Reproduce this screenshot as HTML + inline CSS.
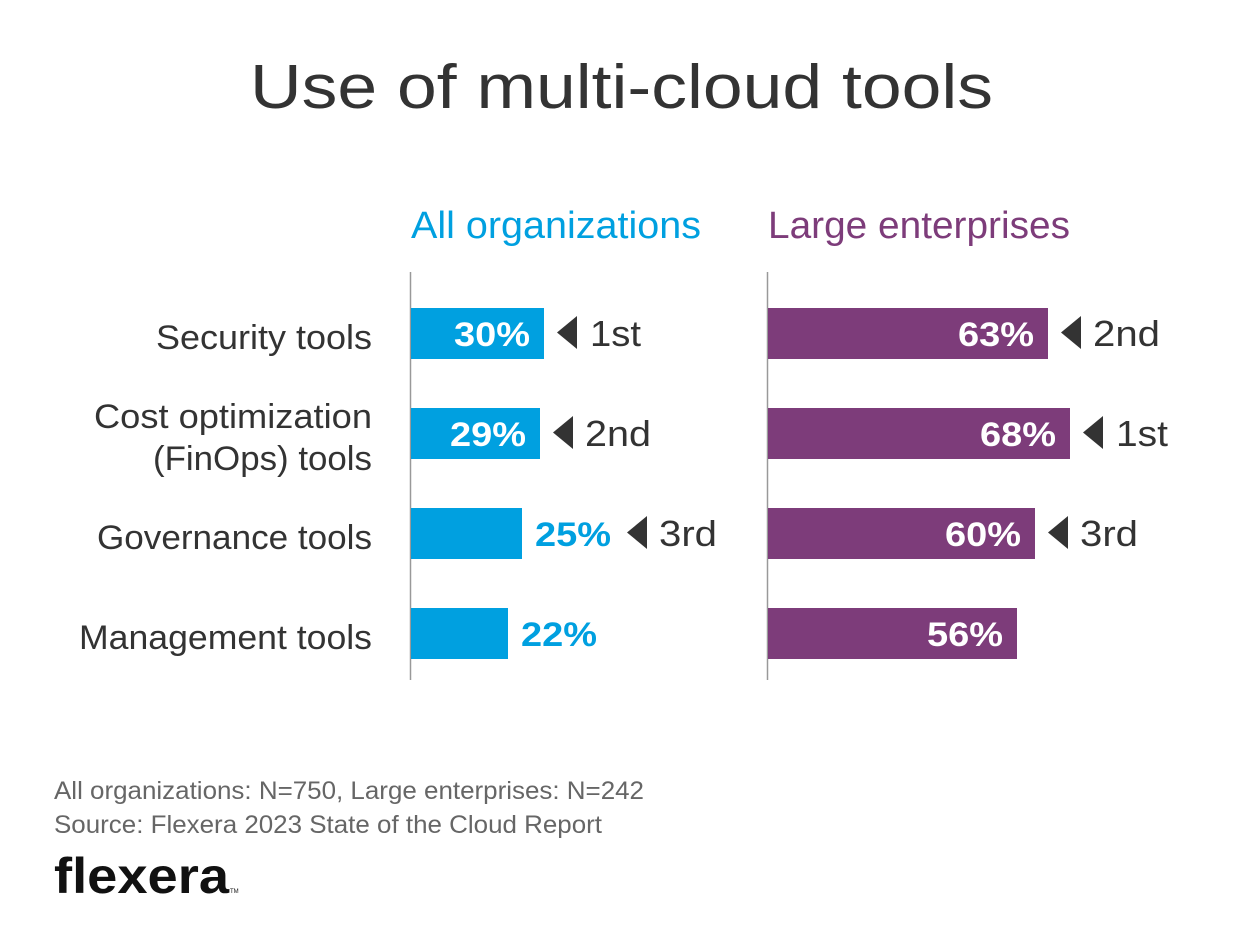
<!DOCTYPE html>
<html><head><meta charset="utf-8"><style>body{margin:0;background:#fff}svg{display:block}</style></head><body>
<svg width="1241" height="949" viewBox="0 0 1241 949" xmlns="http://www.w3.org/2000/svg" font-family="Liberation Sans, sans-serif">
<rect width="1241" height="949" fill="#fff"/>
<text x="250" y="108" font-size="62" fill="#333" textLength="743" lengthAdjust="spacingAndGlyphs">Use of multi-cloud tools</text>
<text x="411" y="238" font-size="38" fill="#00a0e0" textLength="290" lengthAdjust="spacingAndGlyphs">All organizations</text>
<text x="768" y="238" font-size="38" fill="#7d3c7a" textLength="302" lengthAdjust="spacingAndGlyphs">Large enterprises</text>
<line x1="410.5" y1="272" x2="410.5" y2="680" stroke="#999" stroke-width="1.5"/>
<line x1="767.5" y1="272" x2="767.5" y2="680" stroke="#999" stroke-width="1.5"/>
<g font-size="34" fill="#333" text-anchor="end">
<text x="372" y="349" textLength="216" lengthAdjust="spacingAndGlyphs">Security tools</text>
<text x="372" y="428" textLength="278" lengthAdjust="spacingAndGlyphs">Cost optimization</text>
<text x="372" y="470" textLength="219" lengthAdjust="spacingAndGlyphs">(FinOps) tools</text>
<text x="372" y="549" textLength="275" lengthAdjust="spacingAndGlyphs">Governance tools</text>
<text x="372" y="649" textLength="293" lengthAdjust="spacingAndGlyphs">Management tools</text>
</g>
<g fill="#00a0e0">
<rect x="411" y="308" width="133" height="51"/>
<rect x="411" y="408" width="129" height="51"/>
<rect x="411" y="508" width="111" height="51"/>
<rect x="411" y="608" width="97" height="51"/>
</g>
<g fill="#7d3c7a">
<rect x="768" y="308" width="280" height="51"/>
<rect x="768" y="408" width="302" height="51"/>
<rect x="768" y="508" width="267" height="51"/>
<rect x="768" y="608" width="249" height="51"/>
</g>
<g font-size="34" font-weight="bold" fill="#fff" text-anchor="end">
<text x="530" y="346" textLength="76" lengthAdjust="spacingAndGlyphs">30%</text>
<text x="526" y="446" textLength="76" lengthAdjust="spacingAndGlyphs">29%</text>
<text x="1034" y="346" textLength="76" lengthAdjust="spacingAndGlyphs">63%</text>
<text x="1056" y="446" textLength="76" lengthAdjust="spacingAndGlyphs">68%</text>
<text x="1021" y="546" textLength="76" lengthAdjust="spacingAndGlyphs">60%</text>
<text x="1003" y="646" textLength="76" lengthAdjust="spacingAndGlyphs">56%</text>
</g>
<g font-size="34" font-weight="bold" fill="#00a0e0">
<text x="535" y="546" textLength="76" lengthAdjust="spacingAndGlyphs">25%</text>
<text x="521" y="646" textLength="76" lengthAdjust="spacingAndGlyphs">22%</text>
</g>
<g fill="#333">
<polygon points="577,316 577,349 557,332.5"/>
<polygon points="573,416 573,449 553,432.5"/>
<polygon points="647,516 647,549 627,532.5"/>
<polygon points="1081,316 1081,349 1061,332.5"/>
<polygon points="1103,416 1103,449 1083,432.5"/>
<polygon points="1068,516 1068,549 1048,532.5"/>
</g>
<g font-size="36" fill="#333">
<text x="590" y="346" textLength="51" lengthAdjust="spacingAndGlyphs">1st</text>
<text x="585" y="446" textLength="66" lengthAdjust="spacingAndGlyphs">2nd</text>
<text x="659" y="546" textLength="58" lengthAdjust="spacingAndGlyphs">3rd</text>
<text x="1093" y="346" textLength="67" lengthAdjust="spacingAndGlyphs">2nd</text>
<text x="1116" y="446" textLength="52" lengthAdjust="spacingAndGlyphs">1st</text>
<text x="1080" y="546" textLength="58" lengthAdjust="spacingAndGlyphs">3rd</text>
</g>
<g font-size="25" fill="#666">
<text x="54" y="799" textLength="590" lengthAdjust="spacingAndGlyphs">All organizations: N=750, Large enterprises: N=242</text>
<text x="54" y="833" textLength="548" lengthAdjust="spacingAndGlyphs">Source: Flexera 2023 State of the Cloud Report</text>
</g>
<text x="54" y="893" font-size="50" font-weight="bold" fill="#111" textLength="175" lengthAdjust="spacingAndGlyphs">flexera</text>
<text x="230" y="893" font-size="6" fill="#111">TM</text>
</svg>
</body></html>
